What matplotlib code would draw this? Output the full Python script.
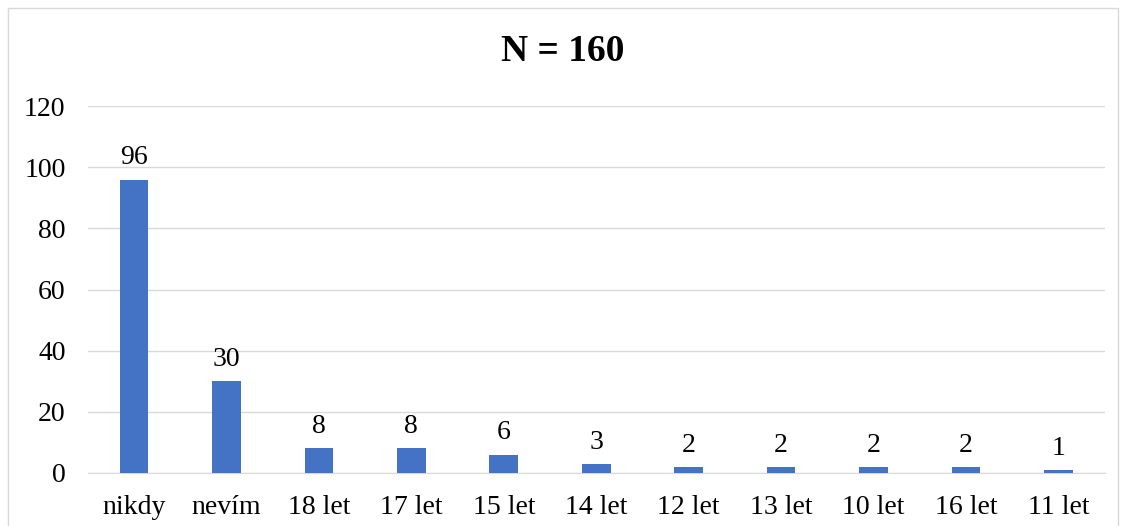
import matplotlib.pyplot as plt
from matplotlib.patches import Rectangle

# data
categories = ['nikdy', 'nevím', '18 let', '17 let', '15 let', '14 let',
              '12 let', '13 let', '10 let', '16 let', '11 let']
counts = [96, 30, 8, 8, 6, 3, 2, 2, 2, 2, 1]
yticks = [0, 20, 40, 60, 80, 100, 120]

plt.rcParams['font.family'] = ['Liberation Serif', 'DejaVu Serif']

fig = plt.figure(figsize=(11.26, 5.26), dpi=100)
ax = fig.add_axes([0.078, 0.101, 0.903, 0.697])

# outer chart border
fig.patches.append(Rectangle((0.007, -0.01), 0.986, 0.995, transform=fig.transFigure,
                             fill=False, edgecolor='#d9d9d9', linewidth=1))

x = range(len(categories))
bars = ax.bar(x, counts, width=0.31, color='#4472C4', zorder=3)
for xi, v in zip(x, counts):
    ax.text(xi, v + 3, str(v), ha='center', va='bottom', fontsize=20)

ax.set_xlim(-0.5, len(categories) - 0.5)
ax.set_ylim(0, 120)
ax.set_yticks(yticks)
ax.set_xticks(list(x))
ax.set_xticklabels(categories)
ax.tick_params(axis='both', length=0, labelsize=20)
ax.tick_params(axis='y', pad=16)
ax.tick_params(axis='x', pad=16)
ax.yaxis.grid(True, color='#d9d9d9', linewidth=1, zorder=0)
for s in ['top', 'right', 'left']:
    ax.spines[s].set_visible(False)
ax.spines['bottom'].set_color('#d9d9d9')

fig.text(0.5, 0.903, 'N = 160', ha='center', va='center', fontsize=27, fontweight='bold')

fig.savefig('out.png', dpi=100)
